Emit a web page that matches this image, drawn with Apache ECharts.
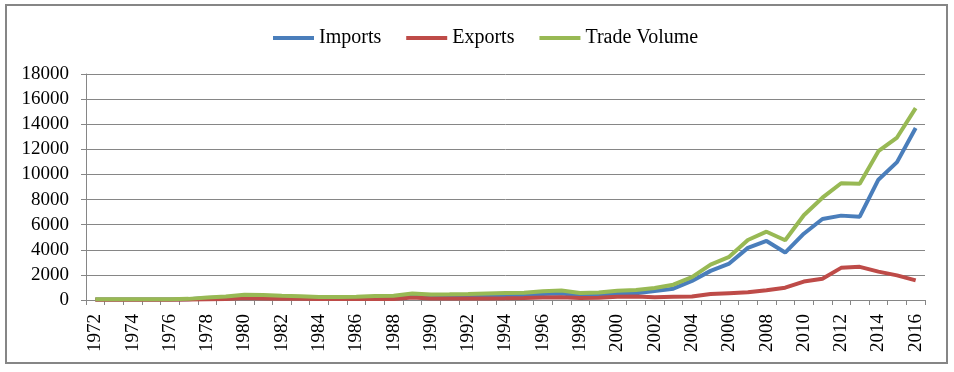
<!DOCTYPE html>
<html>
<head>
<meta charset="utf-8">
<script src="https://cdn.jsdelivr.net/npm/echarts@6/dist/echarts.min.js"></script>
<style>
html,body{margin:0;padding:0;background:#fff;}
#chart{width:954px;height:372px;}
</style>
</head>
<body>
<div id="chart"></div>
<script>
const years = [];
for (let y = 1972; y <= 2016; y++) years.push(String(y));

const imports = [40,40,40,40,40,60,150,200,260,280,230,200,170,170,190,230,260,320,330,340,360,400,420,400,480,520,380,420,480,530,720,900,1520,2320,2900,4150,4700,3780,5280,6450,6720,6640,9580,10980,13700];
const exports = [20,20,20,20,20,30,50,80,160,120,100,90,70,70,70,80,80,200,110,110,110,120,130,150,190,220,150,180,250,270,220,260,280,470,540,610,780,980,1470,1700,2560,2640,2260,1960,1560];
const tradeVolume = [60,60,60,60,60,90,200,280,420,400,330,290,240,240,260,310,340,520,440,450,470,520,550,570,690,760,560,600,730,800,950,1220,1820,2820,3440,4780,5440,4760,6750,8150,9300,9250,11850,12940,15280];

const yMin = 0, yMax = 18000, yStep = 2000;
const FONT = 'Times New Roman, Liberation Serif, DejaVu Serif, serif';
const GRAY = '#868686';

const chart = echarts.init(document.getElementById('chart'));
chart.setOption({
  animation: false,
  backgroundColor: '#fff',
  textStyle: {fontFamily: FONT},
  graphic: [{
    type: 'rect',
    shape: {x: 6, y: 5, width: 941, height: 358},
    style: {fill: 'none', stroke: GRAY, lineWidth: 2},
    silent: true
  }],
  legend: {
    top: 23,
    left: 268,
    itemWidth: 41,
    itemHeight: 4,
    itemGap: 25,
    icon: 'rect',
    textStyle: {fontFamily: FONT, fontSize: 20, color: '#000'},
    data: ['Imports', 'Exports', 'Trade Volume']
  },
  grid: {left: 86, right: 29, top: 74, bottom: 72},
  xAxis: {
    type: 'category',
    data: years,
    boundaryGap: true,
    axisLine: {lineStyle: {color: GRAY, width: 1}},
    axisTick: {show: true, interval: 0, length: 5, lineStyle: {color: GRAY}},
    axisLabel: {interval: 1, rotate: 90, margin: 14, fontFamily: FONT, fontSize: 19, color: '#000'},
    splitLine: {show: false}
  },
  yAxis: {
    type: 'value',
    min: yMin, max: yMax, interval: yStep,
    axisLine: {show: true, lineStyle: {color: GRAY, width: 1}},
    axisTick: {show: true, length: 5, lineStyle: {color: GRAY}},
    axisLabel: {margin: 17, fontFamily: FONT, fontSize: 19, color: '#000', formatter: v => String(v)},
    splitLine: {lineStyle: {color: GRAY, width: 1}}
  },
  series: [
    {name: 'Imports', type: 'line', data: imports, showSymbol: false, symbol: 'none',
     lineStyle: {color: '#4A7EBB', width: 4}, itemStyle: {color: '#4A7EBB'}},
    {name: 'Exports', type: 'line', data: exports, showSymbol: false, symbol: 'none',
     lineStyle: {color: '#BE4B48', width: 4}, itemStyle: {color: '#BE4B48'}},
    {name: 'Trade Volume', type: 'line', data: tradeVolume, showSymbol: false, symbol: 'none',
     lineStyle: {color: '#98B954', width: 4}, itemStyle: {color: '#98B954'}}
  ]
});
</script>
</body>
</html>
